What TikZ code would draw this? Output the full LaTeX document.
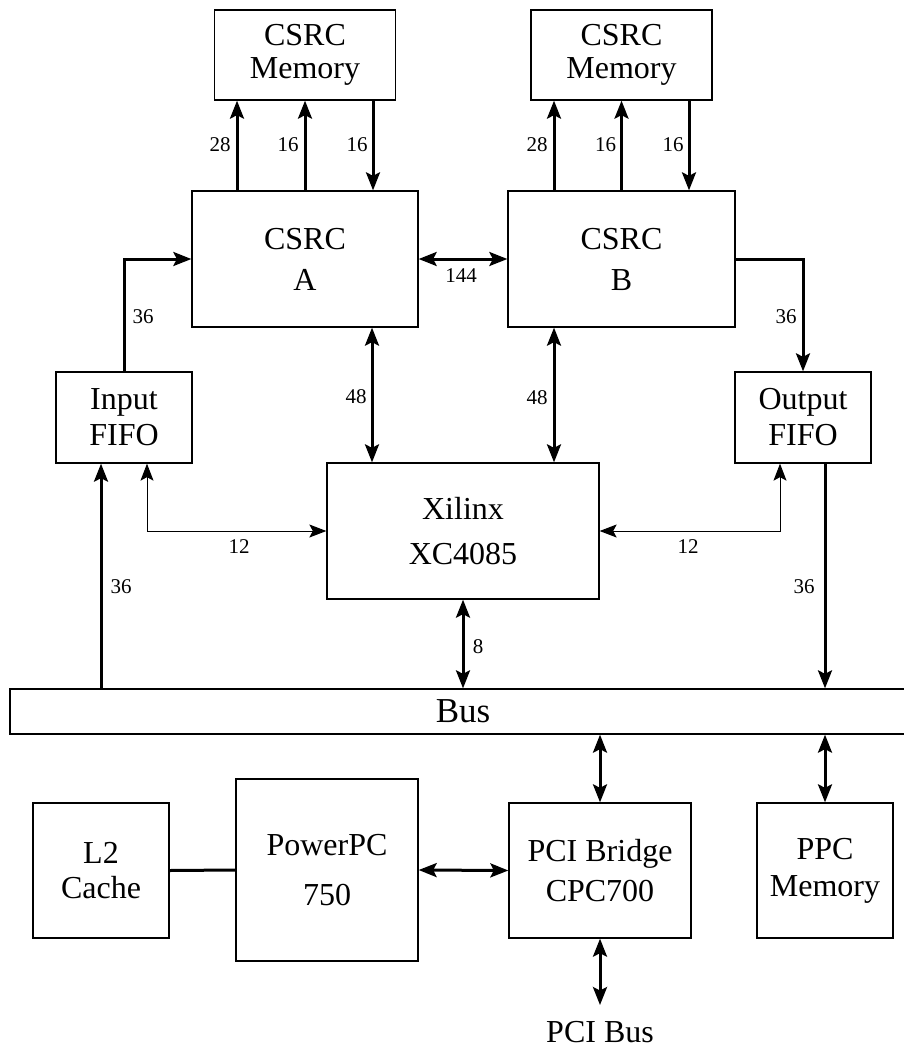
\documentclass[tikz,border=0pt]{standalone}
\usepackage{fontspec}
\setmainfont{Liberation Serif}
\usetikzlibrary{arrows.meta}
\begin{document}
\begin{tikzpicture}[x=1pt,y=-1pt,
  blk/.style={draw, line width=1.3pt, inner sep=0pt, align=center},
  wire/.style={line width=3pt},
  arr/.style={wire, -{Stealth[length=18pt,width=14pt,inset=3.5pt]}},
  dbl/.style={wire, {Stealth[length=18pt,width=14pt,inset=3.5pt]}-{Stealth[length=18pt,width=14pt,inset=3.5pt]}},
  thinarr/.style={line width=1pt, {Stealth[length=17pt,width=13pt,inset=3.5pt]}-{Stealth[length=17pt,width=13pt,inset=3.5pt]}},
  lbl/.style={inner sep=0pt, font=\fontsize{21}{24}\selectfont}
]
\useasboundingbox (0,0) rectangle (904,1049);

% boxes
\node[blk, minimum width=181pt, minimum height=90pt, font=\fontsize{32}{33}\selectfont] (m1) at (305,55) {CSRC\\Memory};
\node[blk, minimum width=181pt, minimum height=90pt, font=\fontsize{32}{33}\selectfont] (m2) at (621.5,55) {CSRC\\Memory};
\node[blk, minimum width=226pt, minimum height=136pt, font=\fontsize{32}{41}\selectfont] (A) at (305,259) {CSRC\\A};
\node[blk, minimum width=227pt, minimum height=136pt, font=\fontsize{32}{41}\selectfont] (B) at (621.5,259) {CSRC\\B};
\node[blk, minimum width=136pt, minimum height=91pt, font=\fontsize{32}{36}\selectfont] (inf) at (124,417.5) {Input\\FIFO};
\node[blk, minimum width=136pt, minimum height=91pt, font=\fontsize{32}{36}\selectfont] (outf) at (803,417.5) {Output\\FIFO};
\node[blk, minimum width=272pt, minimum height=136pt, font=\fontsize{32}{45}\selectfont] (xil) at (463,531) {Xilinx\\XC4085};
\node[blk, minimum width=906pt, minimum height=45pt, font=\fontsize{35}{40}\selectfont] (bus) at (463,711.5) {Bus};
\node[blk, minimum width=136pt, minimum height=135pt, font=\fontsize{32}{35}\selectfont] (l2) at (101,870.5) {L2\\Cache};
\node[blk, minimum width=182pt, minimum height=182pt, font=\fontsize{32}{50}\selectfont] (pow) at (327,870) {PowerPC\\750};
\node[blk, minimum width=182pt, minimum height=135pt, font=\fontsize{32}{40}\selectfont] (pci) at (600,870.5) {PCI Bridge\\CPC700};
\node[blk, minimum width=136pt, minimum height=135pt, font=\fontsize{32}{37}\selectfont] (ppc) at (825,870.5) {PPC\\Memory};
\node[inner sep=0pt, font=\fontsize{32}{36}\selectfont] (pcibus) at (600,1032) {PCI Bus};

% CSRC A <-> memory
\draw[arr] ([xshift=-68pt]A.north) -- ([xshift=-68pt]m1.south);
\draw[arr] (A.north) -- (m1.south);
\draw[arr] ([xshift=68pt]m1.south) -- ([xshift=68pt]A.north);
% CSRC B <-> memory
\draw[arr] ([xshift=-67.5pt]B.north) -- ([xshift=-67.5pt]m2.south);
\draw[arr] (B.north) -- (m2.south);
\draw[arr] ([xshift=67.5pt]m2.south) -- ([xshift=67.5pt]B.north);

\draw[dbl] (A.east) -- (B.west);
\draw[arr] (inf.north) |- (A.west);
\draw[arr] (B.east) -| (outf.north);
\draw[dbl] ([xshift=67pt]A.south) -- ([xshift=-91pt]xil.north);
\draw[dbl] ([xshift=-67.5pt]B.south) -- ([xshift=91pt]xil.north);
\draw[arr] ([xshift=-362pt]bus.north) -- ([xshift=-23pt]inf.south);
\draw[thinarr] ([xshift=23pt]inf.south) |- (xil.west);
\draw[thinarr] ([xshift=-23pt]outf.south) |- (xil.east);
\draw[arr] ([xshift=22pt]outf.south) -- ([xshift=362pt]bus.north);
\draw[dbl] (xil.south) -- (bus.north);
\draw[dbl] ([xshift=137pt]bus.south) -- (pci.north);
\draw[dbl] ([xshift=362pt]bus.south) -- (ppc.north);
\draw[wire] (l2.east) -- (pow.west);
\draw[dbl] (pow.east) -- (pci.west);
\draw[dbl, shorten >=16pt] (pci.south) -- (pcibus.north);

% labels
\node[lbl] (l28a) at (220,145) {28};
\node[lbl] (l16a) at (288,145) {16};
\node[lbl] (l16b) at (357,145) {16};
\node[lbl] (l28b) at (537,145) {28};
\node[lbl] (l16c) at (605.5,145) {16};
\node[lbl] (l16d) at (673,145) {16};
\node[lbl] (l144) at (461,276) {144};
\node[lbl] (l36a) at (143,317) {36};
\node[lbl] (l36b) at (786,317) {36};
\node[lbl] (l48a) at (356,397) {48};
\node[lbl] (l48b) at (537,397.5) {48};
\node[lbl] (l12a) at (239,547) {12};
\node[lbl] (l12b) at (688,547) {12};
\node[lbl] (l36c) at (121,587) {36};
\node[lbl] (l36d) at (804,587) {36};
\node[lbl] (l8) at (478,647) {8};
\end{tikzpicture}
\end{document}
